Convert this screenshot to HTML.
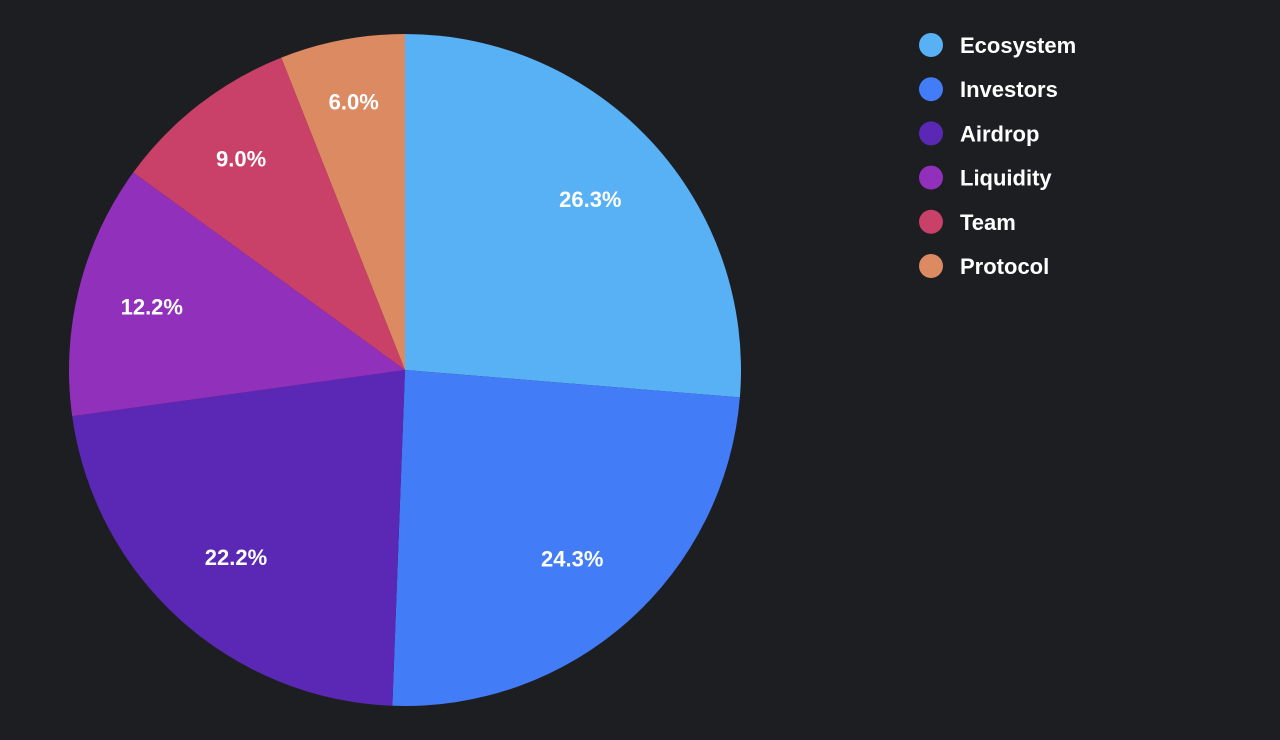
<!DOCTYPE html>
<html><head><meta charset="utf-8"><style>
body{margin:0;background:#1d1e21;width:1280px;height:740px;overflow:hidden}
svg{display:block}
text{font-family:"Liberation Sans",sans-serif;font-weight:bold;fill:#fff}
</style></head><body>
<svg id="chart" width="1280" height="740"></svg>
<script>
const categories=["Ecosystem","Investors","Airdrop","Liquidity","Team","Protocol"];
const values=[26.3,24.3,22.2,12.2,9.0,6.0];
const colors=["#58b0f5","#437cf7","#5a28b5","#9130bb","#c94068","#dc8a62"];
const svg=document.getElementById('chart');
const NS='http://www.w3.org/2000/svg';
const cx=405,cy=370,R=336;
const total=values.reduce((a,b)=>a+b,0);
function pt(a,r){return [cx+r*Math.sin(a),cy-r*Math.cos(a)];}
let acc=0;
values.forEach((v,i)=>{
  const a0=acc/total*2*Math.PI; acc+=v; const a1=acc/total*2*Math.PI;
  const p0=pt(a0,R),p1=pt(a1,R);
  const path=document.createElementNS(NS,'path');
  path.setAttribute('d',`M${cx},${cy}L${p0[0]},${p0[1]}A${R},${R} 0 ${a1-a0>Math.PI?1:0} 1 ${p1[0]},${p1[1]}Z`);
  path.setAttribute('fill',colors[i]);
  
  
  svg.appendChild(path);
  const frac=v/total;
  const m=pt((a0+a1)/2,R*Math.max(0.75,0.85-frac*0.6));
  const t=document.createElementNS(NS,'text');
  t.setAttribute('x',m[0]);t.setAttribute('y',m[1]+8);
  t.setAttribute('text-anchor','middle');t.setAttribute('font-size','22');
  t.textContent=v.toFixed(1)+'%';
  
  
  svg.appendChild(t);
  const g=document.createElementNS(NS,'g');
  
  
  const y=45+i*44.2;
  const c=document.createElementNS(NS,'circle');
  c.setAttribute('cx',931);c.setAttribute('cy',y);c.setAttribute('r',12);c.setAttribute('fill',colors[i]);
  g.appendChild(c);
  const lt=document.createElementNS(NS,'text');
  lt.setAttribute('x',960);lt.setAttribute('y',y+8);lt.setAttribute('font-size','22');
  lt.textContent=categories[i];
  g.appendChild(lt);
  svg.appendChild(g);
});
</script>
</body></html>
